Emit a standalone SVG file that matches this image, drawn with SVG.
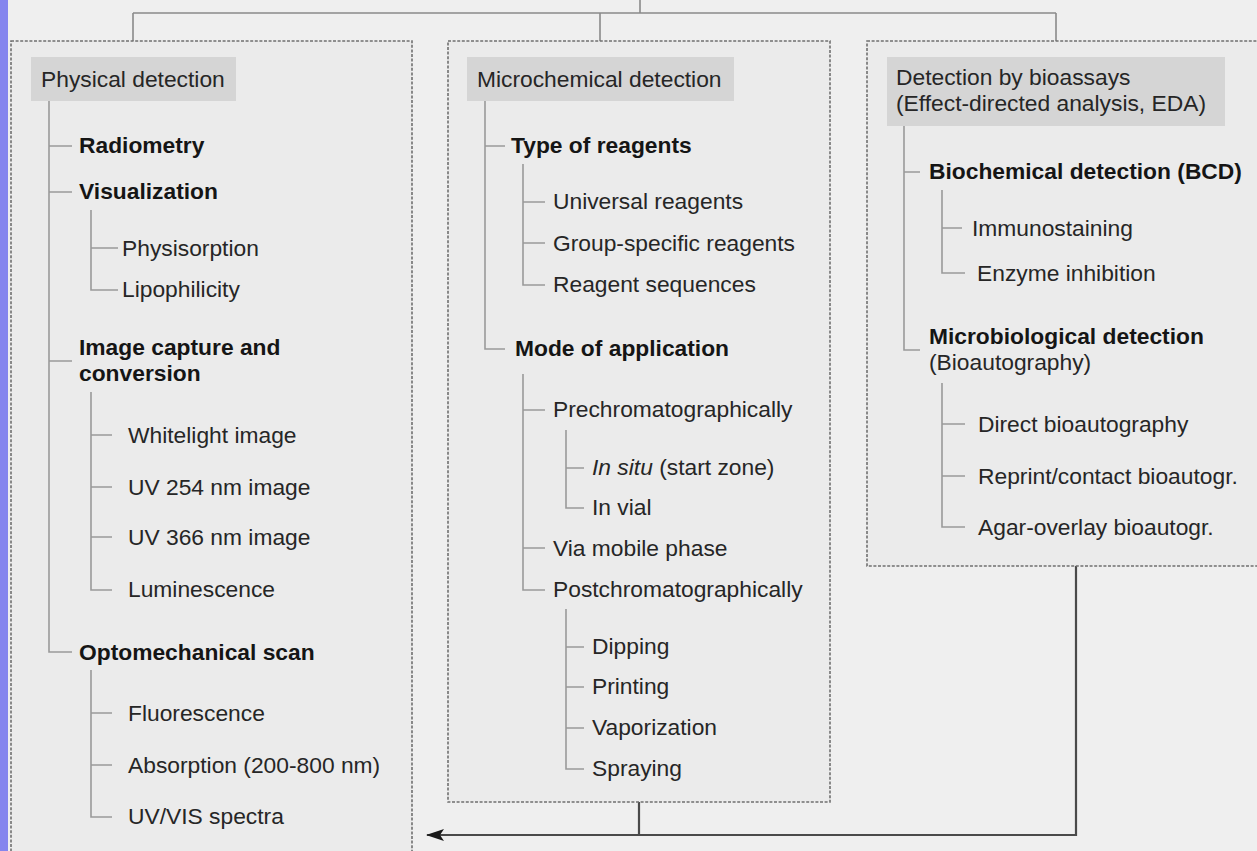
<svg xmlns="http://www.w3.org/2000/svg" width="1257" height="851" viewBox="0 0 1257 851">
<style>
text{font-family:"Liberation Sans",Arial,sans-serif;font-size:22.8px;fill:#262626}
.b{font-weight:bold;fill:#151515}
.panel{fill:#ebebeb;stroke:#707070;stroke-width:1.6;stroke-dasharray:3 1.6}
.head{fill:#d5d5d5}
.tree{fill:none;stroke:#9a9a9a;stroke-width:1.6}
.conn{fill:none;stroke:#8a8a8a;stroke-width:1.6}
.arrow{fill:none;stroke:#4a4a4a;stroke-width:2.2}
</style>
<defs>
<marker id="ah" markerWidth="18" markerHeight="12" refX="17" refY="6" orient="auto" markerUnits="userSpaceOnUse">
<path d="M0,0 L18,6 L0,12 L4,6 Z" fill="#1a1a1a"/>
</marker>
</defs>
<rect width="1257" height="851" fill="#efefef"/>
<rect x="0" y="0" width="8" height="851" fill="#8585ee"/>

<g id="connectors">
<path class="conn" d="M640,0 V13 M133,13 H1056 M133,13 V57 M600,13 V57 M1056,13 V57"/>
<path class="arrow" d="M639,802 V835 M1076,566 V835 H427" marker-end="url(#ah)"/>
</g>

<g id="physical">
<rect class="panel" x="11" y="41" width="401" height="830"/>
<rect class="head" x="31" y="57" width="205" height="44"/>
<text x="41" y="87">Physical detection</text>
<path class="tree" d="M49,101 V652 H72 M49,146 H72 M49,192 H72 M49,361 H72"/>
<text class="b" x="79" y="153">Radiometry</text>
<text class="b" x="79" y="199">Visualization</text>
<path class="tree" d="M91,210 V290 H118 M91,248 H118"/>
<text x="122" y="256">Physisorption</text>
<text x="122" y="297">Lipophilicity</text>
<text class="b" x="79" y="355">Image capture and</text>
<text class="b" x="79" y="381">conversion</text>
<path class="tree" d="M91,392 V590 H112 M91,435 H112 M91,487 H112 M91,537 H112"/>
<text x="128" y="443">Whitelight image</text>
<text x="128" y="495">UV 254 nm image</text>
<text x="128" y="545">UV 366 nm image</text>
<text x="128" y="597">Luminescence</text>
<text class="b" x="79" y="660">Optomechanical scan</text>
<path class="tree" d="M91,670 V817 H112 M91,713 H112 M91,765 H112"/>
<text x="128" y="721">Fluorescence</text>
<text x="128" y="773">Absorption (200-800 nm)</text>
<text x="128" y="824">UV/VIS spectra</text>
</g>

<g id="microchemical">
<rect class="panel" x="448" y="41" width="382" height="761"/>
<rect class="head" x="467" y="57" width="267" height="44"/>
<text x="477" y="87">Microchemical detection</text>
<path class="tree" d="M485,101 V349 H505 M485,146 H505"/>
<text class="b" x="511" y="153">Type of reagents</text>
<path class="tree" d="M523,164 V285 H545 M523,202 H545 M523,243 H545"/>
<text x="553" y="209">Universal reagents</text>
<text x="553" y="251">Group-specific reagents</text>
<text x="553" y="292">Reagent sequences</text>
<text class="b" x="515" y="356">Mode of application</text>
<path class="tree" d="M523,374 V590 H545 M523,410 H545 M523,548 H545"/>
<text x="553" y="417">Prechromatographically</text>
<path class="tree" d="M566,430 V508 H584 M566,468 H584"/>
<text x="592" y="475"><tspan font-style="italic">In situ</tspan> (start zone)</text>
<text x="592" y="515">In vial</text>
<text x="553" y="556">Via mobile phase</text>
<text x="553" y="597">Postchromatographically</text>
<path class="tree" d="M566,609 V769 H584 M566,647 H584 M566,687 H584 M566,728 H584"/>
<text x="592" y="654">Dipping</text>
<text x="592" y="694">Printing</text>
<text x="592" y="735">Vaporization</text>
<text x="592" y="776">Spraying</text>
</g>

<g id="bioassays">
<rect class="panel" x="867" y="41" width="400" height="525"/>
<rect class="head" x="887" y="57" width="338" height="69"/>
<text x="896" y="85">Detection by bioassays</text>
<text x="896" y="111">(Effect-directed analysis, EDA)</text>
<path class="tree" d="M904,126 V350 H920 M904,172 H920"/>
<text class="b" x="929" y="179">Biochemical detection (BCD)</text>
<path class="tree" d="M942,190 V273 H965 M942,228 H962"/>
<text x="972" y="236">Immunostaining</text>
<text x="977" y="281">Enzyme inhibition</text>
<text class="b" x="929" y="344">Microbiological detection</text>
<text x="929" y="370">(Bioautography)</text>
<path class="tree" d="M942,383 V527 H965 M942,424 H965 M942,476 H965"/>
<text x="978" y="432">Direct bioautography</text>
<text x="978" y="484">Reprint/contact bioautogr.</text>
<text x="978" y="535">Agar-overlay bioautogr.</text>
</g>
</svg>
